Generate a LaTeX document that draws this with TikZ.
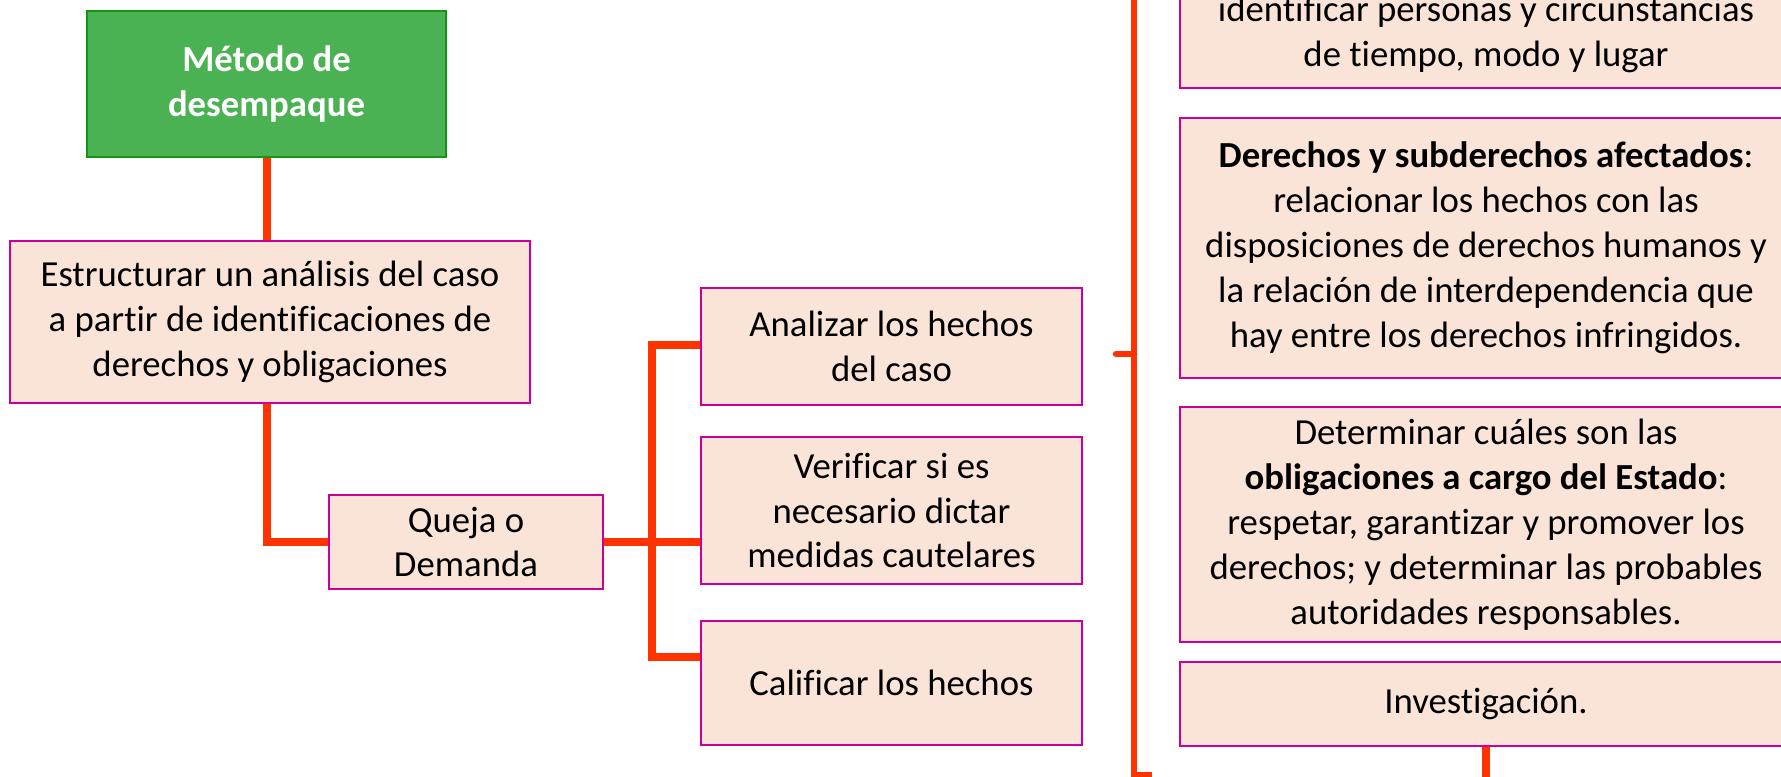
\documentclass[tikz,border=0pt]{standalone}
\usepackage{fontspec}
\setmainfont{Carlito}[Ligatures=NoCommon]
\definecolor{boxfill}{RGB}{250,228,215}
\definecolor{boxline}{RGB}{204,0,153}
\definecolor{gfill}{RGB}{74,178,82}
\definecolor{gline}{RGB}{20,150,20}
\definecolor{conn}{RGB}{255,51,0}
\tikzset{
  sz/.style 2 args={minimum width=#1*0.49pt, minimum height=#2*0.49pt},
  pbox/.style={draw=boxline, fill=boxfill, line width=1.3pt, inner sep=0pt,
    align=center, font=\fontsize{18}{22}\selectfont},
  gbox/.style={draw=gline, fill=gfill, line width=1.3pt, inner sep=0pt,
    align=center, text=white, font=\fontsize{18}{22}\selectfont\bfseries},
  conline/.style={draw=conn, line width=3.6pt, line join=miter},
}
\begin{document}
\begin{tikzpicture}[x=0.49pt,y=-0.49pt]
\clip (0,0) rectangle (1781,777);
\fill[white] (0,0) rectangle (1781,777);
% left column
\node[gbox, sz={359}{146}] (green) at (266.5,84) {Método de\\desempaque};
\node[pbox, sz={520}{162}] (estr) at (270,322) {Estructurar un análisis del caso\\a partir de identificaciones de\\derechos y obligaciones};
\node[pbox, sz={274}{94}] (queja) at (466,542) {Queja o\\Demanda};
% middle column
\node[pbox, sz={381}{117}] (anal) at (891.5,346.5) {Analizar los hechos\\del caso};
\node[pbox, sz={381}{147}] (verif) at (891.5,510.5) {Verificar si es\\necesario dictar\\medidas cautelares};
\node[pbox, sz={381}{124}] (calif) at (891.5,683) {Calificar los hechos};
% right column
\node[pbox, sz={612}{148}] (r1) at (1486,14) {};
\node[font=\fontsize{18}{22}\selectfont, align=center, inner sep=0pt] (r1t) at (1486,34.5) {identificar personas y circunstancias\\de tiempo, modo y lugar};
\node[pbox, sz={612}{260}] (r2) at (1486,248) {\textbf{Derechos y subderechos afectados}:\\relacionar los hechos con las\\disposiciones de derechos humanos y\\la relación de interdependencia que\\hay entre los derechos infringidos.};
\node[pbox, sz={612}{235}] (r3) at (1486,524.5) {Determinar cuáles son las\\\textbf{obligaciones a cargo del Estado}:\\respetar, garantizar y promover los\\derechos; y determinar las probables\\autoridades responsables.};
\node[pbox, sz={612}{84}] (r4) at (1486,704) {Investigación.};
% coordinates
\coordinate (b1) at (652,345);
\coordinate (b3) at (652,657);
\coordinate (brtop) at (1134,-20);
\coordinate (brbot) at (1134,775);
\coordinate (brend) at (1152,775);
\coordinate (tick) at (1116,354);
\coordinate (invend) at (1486,800);
% connectors
\draw[conline] (green.south -| 267,0) -- (estr.north -| 267,0);
\draw[conline] (estr.south -| 267,0) |- (queja.west);
\draw[conline] (queja.east) -- (verif.west |- queja.east);
\draw[conline] (anal.west |- b1) -- (b1) -- (b3) -- (calif.west |- b3);
\draw[conline, line width=3.2pt] (brtop) -- (brbot) -- (brend);
\draw[conline, line width=3.2pt, line cap=round] (tick) -- (tick -| brtop);
\draw[conline] (r4.south) -- (invend);
\end{tikzpicture}
\end{document}
